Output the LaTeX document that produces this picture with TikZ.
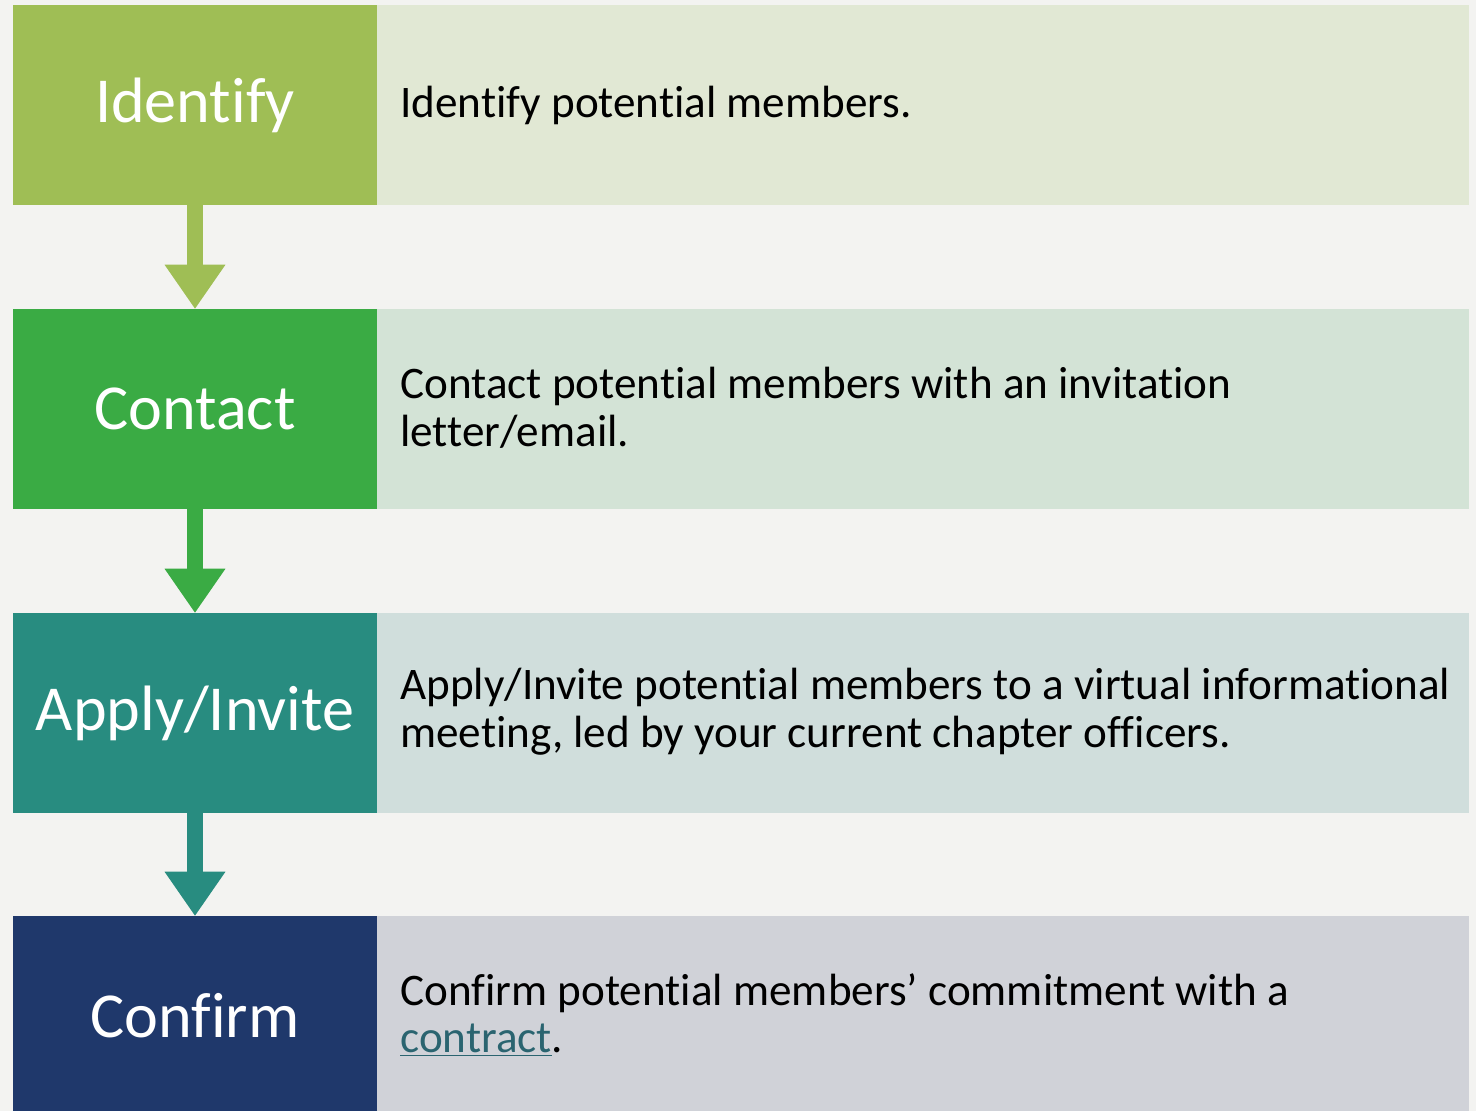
\documentclass[tikz,border=0pt]{standalone}
\usepackage{fontspec}
\setmainfont{Carlito}[Ligatures=NoCommon]
\usetikzlibrary{arrows.meta}
\definecolor{pagebg}{HTML}{F3F3F1}
\definecolor{identifyc}{HTML}{9FBE55}
\definecolor{identifyl}{HTML}{E1E8D4}
\definecolor{contactc}{HTML}{3AAB44}
\definecolor{contactl}{HTML}{D3E3D6}
\definecolor{applyc}{HTML}{288C80}
\definecolor{applyl}{HTML}{D0DEDC}
\definecolor{confirmc}{HTML}{1F386B}
\definecolor{confirml}{HTML}{D0D2D8}
\definecolor{linkc}{HTML}{2A6470}
\tikzset{
	stepbox/.style={fill=#1, minimum width=7.28cm, minimum height=4cm, inner sep=0pt, text=white, font=\fontsize{36.5}{38}\selectfont},
	infobox/.style={fill=#1, minimum width=21.84cm, minimum height=4cm, inner sep=0pt},
	infotext/.style={anchor=west, align=left, inner sep=0pt, font=\fontsize{25.7}{27.2}\selectfont},
	flow/.style={draw=#1, line width=0.32cm, -{Triangle[width=1.22cm,length=0.88cm,line width=0pt]}}
}
\begin{document}
\begin{tikzpicture}[x=0.02cm, y=-0.02cm]
	%background
	\fill[pagebg] (0,0) rectangle (1476,1111);
	\useasboundingbox (0,0) rectangle (1476,1111);
	
	%step boxes
	\node at (195, 105) [stepbox=identifyc] (s1) {Identify};
	\node at (195, 409) [stepbox=contactc] (s2) {Contact};
	\node at (195, 713) [stepbox=applyc] (s3) {Apply/Invite};
	\node at (195, 1016) [stepbox=confirmc] (s4) {Confirm};
	
	%description boxes
	\node at (923, 105) [infobox=identifyl] (d1) {};
	\node at (923, 409) [infobox=contactl] (d2) {};
	\node at (923, 713) [infobox=applyl] (d3) {};
	\node at (923, 1016) [infobox=confirml] (d4) {};
	
	\node at (400, 105) [infotext] (t1) {Identify potential members.};
	\node at (400, 408) [infotext] (t2) {Contact potential members with an invitation\\letter/email.};
	\node at (400, 712) [infotext] (t3) {Apply/Invite potential members to a virtual informational\\meeting, led by your current chapter officers.};
	\node at (400, 1015) [infotext] (t4) {Confirm potential members’ commitment with a\\\textcolor{linkc}{\underline{contract}}.};
	
	%arrows
	\foreach \a/\b/\c in {s1/s2/identifyc, s2/s3/contactc, s3/s4/applyc}{
		\draw[flow=\c] (\a.south) -- (\b.north);
	}
\end{tikzpicture}
\end{document}
